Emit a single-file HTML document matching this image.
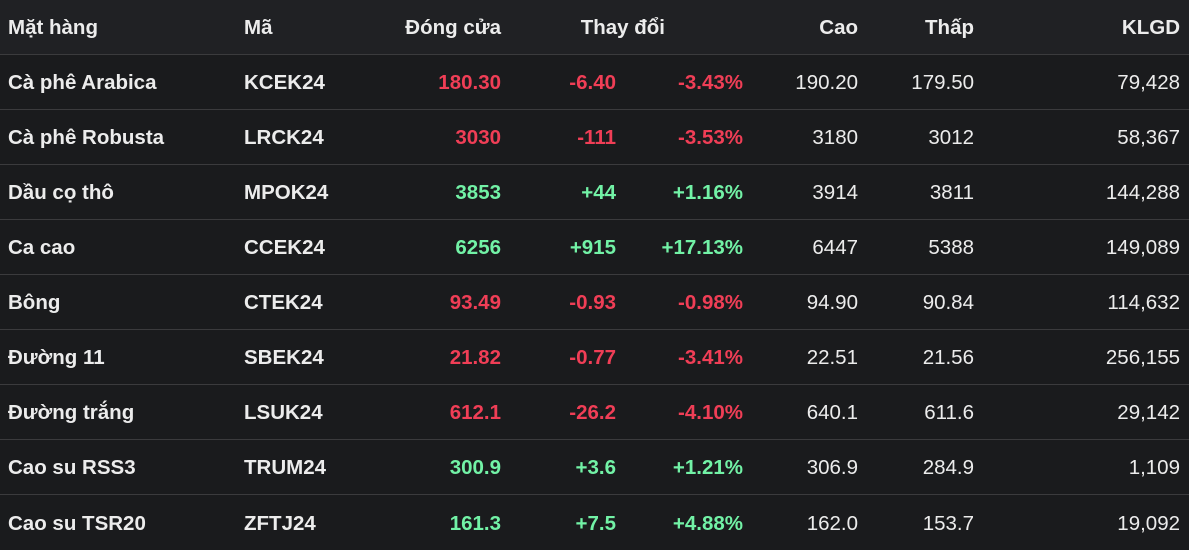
<!DOCTYPE html>
<html><head><meta charset="utf-8"><style>
body{margin:0;width:1189px;height:546px;background:#1a1b1d;font-family:"Liberation Sans","DejaVu Sans",sans-serif;color:#ececec;overflow:hidden}
.row{position:absolute;left:0;width:1189px;border-bottom:1px solid #3b3b3d;box-sizing:border-box}
.h{background:#202124;top:0;height:55px}
.row span{position:absolute;top:50%;transform:translateY(-45%);font-size:20.5px;white-space:nowrap}
.b{font-weight:bold}
.r{color:#f03e56}.g{color:#72f2a6}
.L{left:8px}.M{left:244px}
</style></head><body>
<div class="row h"><span class="b L">Mặt hàng</span><span class="b M">Mã</span><span class="b" style="right:688px">Đóng cửa</span><span class="b" style="right:524px">Thay đổi</span><span class="b" style="right:331px">Cao</span><span class="b" style="right:215px">Thấp</span><span class="b" style="right:9px">KLGD</span></div>
<div id="rows"></div>
<script>
var d=[["Cà phê Arabica","KCEK24","180.30","-6.40","-3.43%","190.20","179.50","79,428"],
["Cà phê Robusta","LRCK24","3030","-111","-3.53%","3180","3012","58,367"],
["Dầu cọ thô","MPOK24","3853","+44","+1.16%","3914","3811","144,288"],
["Ca cao","CCEK24","6256","+915","+17.13%","6447","5388","149,089"],
["Bông","CTEK24","93.49","-0.93","-0.98%","94.90","90.84","114,632"],
["Đường 11","SBEK24","21.82","-0.77","-3.41%","22.51","21.56","256,155"],
["Đường trắng","LSUK24","612.1","-26.2","-4.10%","640.1","611.6","29,142"],
["Cao su RSS3","TRUM24","300.9","+3.6","+1.21%","306.9","284.9","1,109"],
["Cao su TSR20","ZFTJ24","161.3","+7.5","+4.88%","162.0","153.7","19,092"]];
var h="";d.forEach(function(r,i){var c=r[3][0]=="-"?"r":"g";var t=55+i*55;
h+='<div class="row" style="top:'+t+'px;height:55px'+(i==8?';border:none':'')+'"><span class="b L">'+r[0]+'</span><span class="b M">'+r[1]+'</span><span class="b '+c+'" style="right:688px">'+r[2]+'</span><span class="b '+c+'" style="right:573px">'+r[3]+'</span><span class="b '+c+'" style="right:446px">'+r[4]+'</span><span style="right:331px">'+r[5]+'</span><span style="right:215px">'+r[6]+'</span><span style="right:9px">'+r[7]+'</span></div>';});
document.getElementById("rows").innerHTML=h;
</script>
</body></html>
